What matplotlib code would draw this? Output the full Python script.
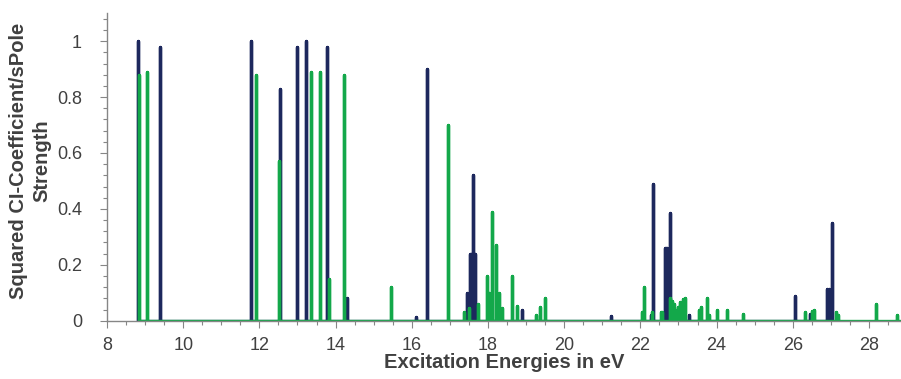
import numpy as np
import matplotlib.pyplot as plt
from matplotlib.ticker import MultipleLocator

plt.rcParams['font.family'] = ['Liberation Sans', 'DejaVu Sans']

# excitation energies (eV) and strengths
navy_e = [8.82, 9.38, 11.78, 12.55, 12.98, 13.22, 13.78, 14.31, 16.12, 16.40,
          17.45, 17.52, 17.55, 17.60, 17.63, 17.66, 18.88, 21.23, 22.27, 22.34,
          22.65, 22.68, 22.71, 22.78, 23.28, 26.07, 26.46, 26.91, 26.95, 27.04]
navy_v = [1.0, 0.98, 1.0, 0.83, 0.98, 1.0, 0.98, 0.08, 0.014, 0.90,
          0.10, 0.24, 0.24, 0.52, 0.24, 0.24, 0.04, 0.018, 0.02, 0.49,
          0.26, 0.26, 0.26, 0.385, 0.02, 0.09, 0.025, 0.115, 0.115, 0.35]

green_e = [8.85, 9.06, 11.91, 12.51, 13.36, 13.59, 13.83, 14.21, 15.45, 16.96,
           17.38, 17.50, 17.75, 17.97, 18.03, 18.10, 18.20, 18.29, 18.36, 18.62,
           18.75, 19.26, 19.36, 19.50, 22.04, 22.09, 22.31, 22.53, 22.57, 22.79,
           22.83, 22.87, 22.91, 22.95, 23.00, 23.04, 23.11, 23.17, 23.55, 23.60,
           23.74, 23.80, 24.02, 24.28, 24.68, 26.32, 26.51, 26.56, 27.13, 27.18,
           28.19, 28.73, 29.2]
green_v = [0.88, 0.89, 0.88, 0.57, 0.89, 0.89, 0.15, 0.88, 0.12, 0.70,
           0.03, 0.045, 0.058, 0.16, 0.10, 0.39, 0.27, 0.098, 0.046, 0.16,
           0.052, 0.02, 0.05, 0.08, 0.03, 0.12, 0.03, 0.03, 0.03, 0.08,
           0.07, 0.058, 0.04, 0.03, 0.05, 0.068, 0.077, 0.08, 0.04, 0.05,
           0.08, 0.02, 0.04, 0.04, 0.023, 0.03, 0.035, 0.04, 0.03, 0.02,
           0.06, 0.02, 0.0]

navy = "#1d285d"
green = "#13a84a"
grey = "#868686"
txt = "#404040"


def spikes(e, v):
    # each line goes 0 -> value -> 0 at its energy
    x = np.repeat(e, 3)
    y = np.column_stack([np.zeros(len(v)), v, np.zeros(len(v))]).ravel()
    return x, y


fig = plt.figure(figsize=(9.01, 3.79), dpi=100)
ax = fig.add_axes([107 / 901, 58.3 / 379, 794 / 901, 307.5 / 379])

x, y = spikes(navy_e, navy_v)
ax.plot(x, y, color=navy, lw=2.4, solid_joinstyle="round", solid_capstyle="round")
x, y = spikes(green_e, green_v)
ax.plot(x, y, color=green, lw=2.4, solid_joinstyle="round", solid_capstyle="round")

ax.set_xlim(8, 28.84)
ax.set_ylim(0, 1.1)
ax.xaxis.set_major_locator(MultipleLocator(2))
ax.xaxis.set_minor_locator(MultipleLocator(0.5))
ax.yaxis.set_major_locator(MultipleLocator(0.2))
ax.yaxis.set_minor_locator(MultipleLocator(0.04))
ax.yaxis.set_major_formatter(plt.FuncFormatter(lambda v, p: f"{v:g}"))

for s in ["top", "right"]:
    ax.spines[s].set_visible(False)
for s in ["left", "bottom"]:
    ax.spines[s].set_color(grey)
    ax.spines[s].set_linewidth(1)

ax.tick_params(which="major", length=5, width=0.8, color=grey, labelsize=13,
               labelcolor=txt)
ax.tick_params(which="minor", length=3, width=0.8, color=grey)
ax.tick_params(axis="x", pad=7)
ax.tick_params(axis="y", pad=13)

ax.set_xlabel("Excitation Energies in eV", fontsize=14.5, fontweight="bold",
              color=txt, labelpad=-1)
ax.set_ylabel("Squared CI-Coefficient/sPole\nStrength", fontsize=14.5,
              fontweight="bold", color=txt, linespacing=1.3)
ax.yaxis.set_label_coords(-0.07, 0.52)

fig.savefig("out.png", dpi=100)
